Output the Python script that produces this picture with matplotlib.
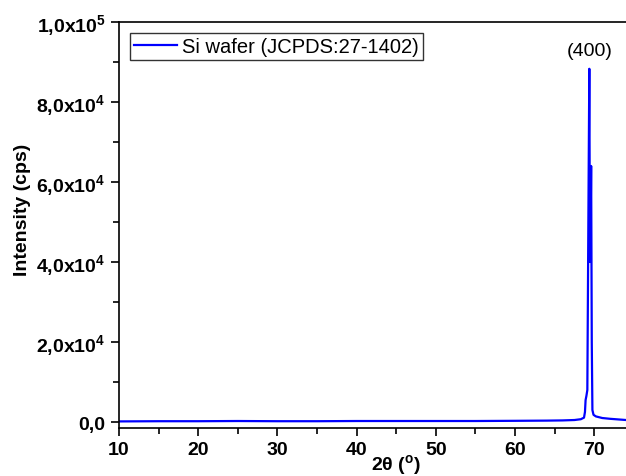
import numpy as np
import matplotlib
matplotlib.use('Agg')
from matplotlib import pyplot as plt
from matplotlib.ticker import FixedLocator, MultipleLocator, FuncFormatter

plt.rcParams['font.family'] = ['Liberation Sans', 'DejaVu Sans']
plt.rcParams['mathtext.fontset'] = 'custom'
plt.rcParams['mathtext.rm'] = 'Liberation Sans:bold'
plt.rcParams['mathtext.it'] = 'Liberation Sans:bold'
plt.rcParams['mathtext.bf'] = 'Liberation Sans:bold'
plt.rcParams['mathtext.default'] = 'rm'

# XRD pattern (2theta in degrees, intensity in cps)
two_theta = [10, 15, 20, 25, 30, 35, 40, 45, 50, 55, 60, 64, 66, 67.5, 68.3,
             68.7, 68.82, 68.9, 69.0, 69.12, 69.25, 69.37, 69.45, 69.52,
             69.6, 69.68, 69.76, 69.9, 70.2, 70.6, 71, 72, 73, 74]
intensity = [150, 200, 200, 250, 200, 200, 250, 250, 250, 250, 300, 350, 400,
             500, 700, 1100, 2500, 5500, 6500, 8000, 50000, 88300, 40000,
             45000, 64000, 20000, 3000, 1800, 1400, 1200, 1000, 800, 650, 500]

y_ticks = [0, 20000, 40000, 60000, 80000, 100000]
y_labels = ['0,0', '2,0x10$^4$', '4,0x10$^4$', '6,0x10$^4$', '8,0x10$^4$', '1,0x10$^5$']

fig = plt.figure(figsize=(6.26, 4.77), dpi=100)
ax = fig.add_axes([0.190, 0.1006, 0.810, 0.8512])

ax.plot(two_theta, intensity, color='#0000ff', linewidth=1.6,
        label='Si wafer (JCPDS:27-1402)')

ax.set_xlim(10, 74)
ax.set_ylim(-1500, 100000)

ax.xaxis.set_major_locator(MultipleLocator(10))
ax.xaxis.set_minor_locator(MultipleLocator(5))
ax.yaxis.set_major_locator(FixedLocator(y_ticks))
ax.yaxis.set_major_formatter(FuncFormatter(
    lambda v, p: y_labels[y_ticks.index(int(round(v)))] if int(round(v)) in y_ticks else ''))
ax.yaxis.set_minor_locator(MultipleLocator(10000))

ax.tick_params(which='major', direction='out', length=6, width=1.2)
ax.tick_params(which='minor', direction='out', length=4, width=1.2)
ax.tick_params(axis='both', labelsize=14)
for lbl in ax.get_xticklabels() + ax.get_yticklabels():
    lbl.set_fontweight('bold')

for s in ['left', 'bottom', 'top']:
    ax.spines[s].set_linewidth(1.2)
ax.spines['right'].set_visible(False)

ax.set_xlabel(r'2θ ($^{o}$)', fontsize=14, fontweight='bold')
ax.xaxis.set_label_coords(0.546, -0.058)
ax.set_ylabel('Intensity (cps)', fontsize=14, fontweight='bold')
ax.yaxis.set_label_coords(-0.174, 0.539)

ax.text(69.4, 90800, '(400)', fontsize=14, ha='center', va='bottom')

leg = ax.legend(loc='upper left', fontsize=14.5, frameon=True, fancybox=False,
                edgecolor='black', borderaxespad=0.55, handlelength=2.15,
                borderpad=0.2, handletextpad=0.25)
leg.get_frame().set_linewidth(1.0)

fig.savefig('out.png', dpi=100)
